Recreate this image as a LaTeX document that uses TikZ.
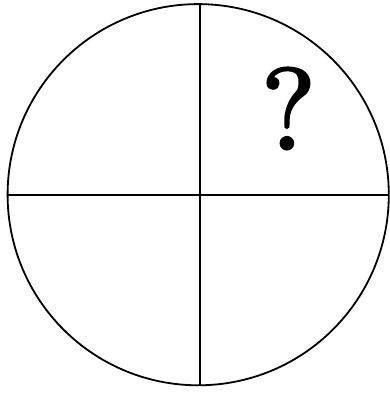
\documentclass[tikz,border=0pt]{standalone}
\usepackage{fontspec}
\newfontfamily\qfont{lmroman10-regular}[Extension=.otf, FakeBold=2]
\begin{document}
\begin{tikzpicture}[x=1pt,y=-1pt,
  stroke/.style={line width=1.8pt, black},
  mark label/.style={inner sep=0pt, font=\qfont\fontsize{116}{116}\selectfont}]
\useasboundingbox (0,0) rectangle (390,393);
\coordinate (c) at (198.2,194.7);
\coordinate (t) at (200,4);
\coordinate (b) at (200,385.5);
\coordinate (l) at (7.5,195);
\coordinate (r) at (389,195);
\draw[stroke] (c) circle[radius=190.6];
\draw[stroke] (t) -- (b);
\draw[stroke] (l) -- (r);
\node[mark label] (q) at (288.5,108.5) {?};
\end{tikzpicture}
\end{document}
